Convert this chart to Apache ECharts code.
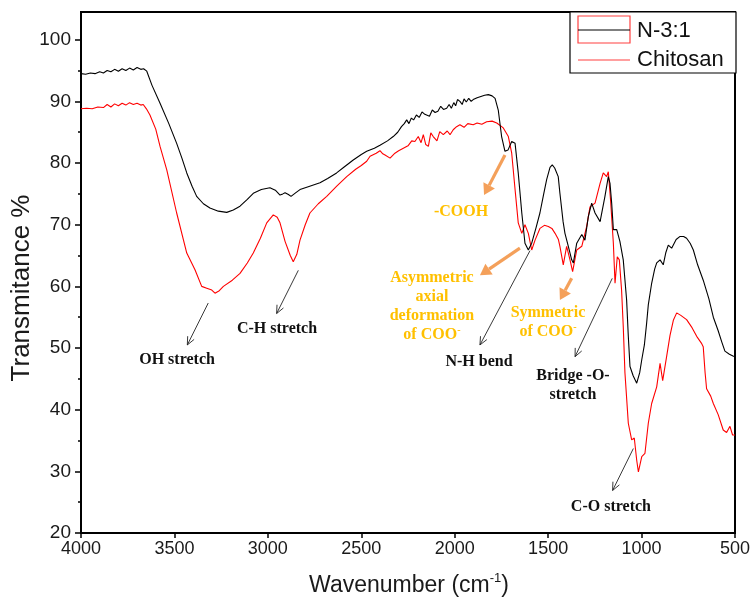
<!DOCTYPE html>
<html><head><meta charset="utf-8">
<script src="https://cdn.jsdelivr.net/npm/echarts@6/dist/echarts.min.js"></script>
<style>html,body{margin:0;padding:0;background:#fff}#c{width:752px;height:601px}</style>
</head><body><div id="c"></div>
<script>
const xTicks = [4000,3500,3000,2500,2000,1500,1000,500];
const yTicks = [20,30,40,50,60,70,80,90,100];
const yMinorTicks = [25,35,45,55,65,75,85,95];
const seriesNames = ['N-3:1','Chitosan'];

const n31 = [
[4000,94.5],[3975,94.4],[3950,94.6],[3925,94.5],[3900,94.8],[3880,94.6],[3860,95.0],[3840,94.8],[3820,95.2],[3800,94.9],[3780,95.3],[3760,95.0],[3740,95.4],[3720,95.1],[3700,95.5],[3680,95.2],[3665,95.3],[3648,94.9],[3620,92.6],[3577,89.7],[3530,86.4],[3488,83.2],[3460,80.8],[3434,78.4],[3405,76.2],[3381,74.6],[3345,73.4],[3310,72.7],[3265,72.2],[3220,72.0],[3185,72.4],[3149,73.0],[3110,74.1],[3078,75.1],[3035,75.7],[2989,76.0],[2960,75.6],[2935,74.8],[2920,75.0],[2908,75.2],[2890,74.9],[2876,74.6],[2850,75.2],[2828,75.7],[2780,76.2],[2721,76.8],[2680,77.5],[2632,78.4],[2590,79.4],[2543,80.5],[2500,81.4],[2471,81.9],[2430,82.4],[2400,82.9],[2360,83.6],[2329,84.3],[2305,85.0],[2285,85.9],[2270,86.4],[2257,87.0],[2245,86.4],[2232,87.3],[2220,87.0],[2205,87.8],[2190,87.4],[2175,88.3],[2160,87.9],[2150,88.1],[2135,87.6],[2120,88.6],[2105,88.2],[2090,88.4],[2075,89.2],[2060,88.7],[2043,88.9],[2030,89.5],[2018,88.9],[2005,89.8],[1995,89.3],[1985,90.3],[1972,90.0],[1960,89.5],[1950,90.4],[1938,89.9],[1925,90.5],[1912,90.0],[1901,90.3],[1880,90.6],[1860,90.8],[1840,91.0],[1820,91.1],[1800,90.9],[1784,90.5],[1767,88.6],[1749,84.3],[1731,81.9],[1715,82.1],[1695,83.5],[1677,83.2],[1660,78.4],[1641,71.9],[1624,67.0],[1606,65.9],[1588,67.0],[1565,69.5],[1544,71.9],[1525,74.8],[1508,77.3],[1490,79.3],[1478,79.7],[1465,79.2],[1446,77.8],[1437,75.1],[1420,70.5],[1410,68.6],[1392,66.5],[1374,64.3],[1365,63.8],[1347,67.0],[1320,68.4],[1303,67.5],[1285,71.3],[1267,73.5],[1249,71.9],[1222,70.5],[1196,74.6],[1178,77.8],[1169,76.7],[1160,73.5],[1151,69.2],[1133,69.2],[1116,67.3],[1098,64.3],[1080,57.8],[1071,51.9],[1062,47.0],[1045,45.5],[1026,44.3],[1010,46.0],[999,48.1],[985,50.5],[973,54.0],[964,57.0],[946,60.5],[930,62.8],[919,63.8],[901,64.3],[884,63.5],[870,65.5],[857,66.7],[839,66.2],[815,67.6],[794,68.1],[775,68.1],[759,67.8],[740,67.0],[723,65.9],[700,63.5],[670,61.0],[640,58.0],[616,55.0],[590,52.8],[571,51.0],[554,49.5],[530,49.0],[511,48.7],[500,48.6]
];

const chitosan = [
[4000,88.8],[3970,88.9],[3940,88.8],[3910,89.1],[3880,89.0],[3860,89.5],[3840,89.1],[3820,89.6],[3800,89.3],[3780,89.7],[3760,89.4],[3740,89.8],[3720,89.5],[3700,89.7],[3680,89.4],[3667,89.5],[3650,88.8],[3631,87.8],[3600,85.5],[3577,82.7],[3541,78.9],[3488,71.9],[3434,65.4],[3390,62.7],[3354,60.0],[3327,59.7],[3300,59.4],[3283,58.9],[3260,59.3],[3238,60.0],[3190,61.0],[3149,62.1],[3110,63.8],[3078,65.4],[3040,67.8],[3006,70.3],[2971,71.6],[2950,71.2],[2935,70.3],[2908,67.3],[2880,65.0],[2864,64.0],[2845,65.2],[2828,67.5],[2800,70.0],[2775,71.9],[2730,73.4],[2685,74.6],[2630,76.3],[2578,77.8],[2530,79.0],[2500,79.6],[2471,80.3],[2453,81.1],[2420,81.6],[2400,82.0],[2385,81.5],[2373,81.3],[2346,80.8],[2320,81.6],[2300,82.0],[2275,82.4],[2250,82.8],[2230,83.6],[2213,83.5],[2195,84.3],[2180,83.3],[2168,84.6],[2155,83.0],[2141,82.7],[2128,84.9],[2115,84.3],[2095,83.6],[2080,85.1],[2061,84.6],[2040,85.2],[2025,84.6],[2008,85.4],[1990,85.9],[1972,86.2],[1950,85.8],[1930,86.4],[1901,86.2],[1880,86.5],[1855,86.3],[1829,86.7],[1800,86.8],[1775,86.5],[1740,85.7],[1713,84.3],[1695,81.6],[1677,75.7],[1660,70.3],[1641,68.6],[1624,70.0],[1606,68.6],[1588,65.9],[1570,67.5],[1544,69.4],[1520,69.9],[1499,69.7],[1480,69.4],[1463,68.6],[1445,67.6],[1437,66.5],[1419,63.5],[1401,66.5],[1383,64.3],[1369,62.4],[1347,65.9],[1320,66.5],[1294,69.7],[1276,72.9],[1249,73.5],[1222,76.7],[1205,78.4],[1187,77.8],[1178,78.6],[1166,74.0],[1151,67.0],[1142,60.5],[1130,64.8],[1119,64.3],[1107,59.4],[1098,53.5],[1089,46.0],[1071,37.8],[1053,35.1],[1039,35.4],[1026,31.8],[1017,29.9],[999,32.4],[982,32.9],[964,37.8],[946,41.0],[919,43.7],[901,47.5],[887,44.7],[866,48.6],[848,52.0],[830,54.5],[812,55.7],[790,55.3],[759,54.6],[730,53.3],[705,51.9],[680,50.8],[670,50.2],[660,46.0],[652,43.4],[630,42.2],[616,41.0],[590,39.2],[563,36.7],[545,36.3],[527,37.3],[513,35.9],[500,35.9]
];

// annotation labels: [wavenumber, transmittance] of label centre
const labels = [
  {text:'OH stretch', at:[3486,48.1], color:'#111'},
  {text:'C-H stretch', at:[2951,53.1], color:'#111'},
  {text:'-COOH', at:[1966,72.1], color:'#FFC000'},
  {text:'Asymmetric\naxial\ndeformation\nof COO{s|-}', at:[2122,56.8], color:'#FFC000'},
  {text:'N-H bend', at:[1870,47.7], color:'#111'},
  {text:'Symmetric\nof COO{s|-}', at:[1501,54.1], color:'#FFC000'},
  {text:'Bridge -O-\nstretch', at:[1367,44.0], color:'#111'},
  {text:'C-O stretch', at:[1164,24.2], color:'#111'}
];
const arrows = [
  {from:[3319,57.3], to:[3431,50.5], kind:'black'},
  {from:[2837,62.6], to:[2953,55.6], kind:'black'},
  {from:[1597,65.8], to:[1865,50.5], kind:'black'},
  {from:[1157,61.3], to:[1356,48.6], kind:'black'},
  {from:[1044,33.7], to:[1155,26.9], kind:'black'},
  {from:[1731,81.3], to:[1843,74.8], kind:'orange'},
  {from:[1651,66.2], to:[1865,61.8], kind:'orange'},
  {from:[1374,61.3], to:[1437,57.8], kind:'orange'}
];

const chart = echarts.init(document.getElementById('c'), null, {renderer:'canvas'});
const labelFont = 'Liberation Sans';
chart.setOption({
  animation:false,
  backgroundColor:'#fff',
  grid:{left:81, right:17, top:12, bottom:68, show:true, borderColor:'#000', borderWidth:2, containLabel:false, outerBoundsMode:'none'},
  xAxis:{
    type:'value', inverse:true, min:500, max:4000, interval:500,
    axisLine:{show:true, onZero:false, lineStyle:{color:'#000', width:2}},
    axisTick:{show:true, inside:false, length:5, lineStyle:{color:'#000', width:1.5}},
    axisLabel:{show:true, margin:7, fontSize:18, fontFamily:labelFont, color:'#1a1a1a',
      customValues: xTicks, formatter:function(v){ return String(v); }},
    splitLine:{show:false}
  },
  yAxis:[{
    type:'value', min:20, max:104.5, interval:10,
    axisLine:{show:true, onZero:false, lineStyle:{color:'#000', width:2}},
    axisTick:{show:true, inside:false, length:6, lineStyle:{color:'#000', width:1.5}, customValues: yTicks},
    axisLabel:{show:true, margin:10, fontSize:19, fontFamily:labelFont, color:'#1a1a1a', customValues: yTicks,
      formatter:function(v){ return String(v); }},
    splitLine:{show:false}
  },{
    type:'value', min:20, max:104.5, position:'left',
    axisLine:{show:false},
    axisTick:{show:true, inside:false, length:3, lineStyle:{color:'#000', width:1.5}, customValues: yMinorTicks},
    axisLabel:{show:false},
    splitLine:{show:false}
  }],
  series:[
    {name:seriesNames[0], type:'line', data:n31, showSymbol:false, symbol:'none', z:3,
     lineStyle:{color:'#000', width:1.1}},
    {name:seriesNames[1], type:'line', data:chitosan, showSymbol:false, symbol:'none', z:2,
     lineStyle:{color:'#ff0000', width:1.1}}
  ]
});

function px(p){ return chart.convertToPixel({gridIndex:0}, p); }
const els = [];
labels.forEach(function(l){
  const p = px(l.at);
  els.push({type:'text', x:p[0], y:p[1], z:10, style:{
    text:l.text, fill:l.color, font:'bold 16px "Liberation Serif"', fontSize:16, fontWeight:'bold', fontFamily:'Liberation Serif',
    align:'center', verticalAlign:'middle', textAlign:'center', textVerticalAlign:'middle',
    lineHeight:19, rich:{s:{fill:l.color, fontSize:10, fontWeight:'bold', fontFamily:'Liberation Serif', verticalAlign:'top', lineHeight:19}}
  }});
});
arrows.forEach(function(a){
  const p0 = px(a.from), p1 = px(a.to);
  const ang = Math.atan2(p1[1]-p0[1], p1[0]-p0[0]);
  const orange = a.kind === 'orange';
  const L = orange ? 11 : 8, W = orange ? 6.5 : 3.6;
  const color = orange ? '#F4A05A' : '#222';
  const bx = p1[0]-L*Math.cos(ang), by = p1[1]-L*Math.sin(ang);
  const nx = -Math.sin(ang), ny = Math.cos(ang);
  const left = [bx+nx*W, by+ny*W], right = [bx-nx*W, by-ny*W];
  if (orange) {
    els.push({type:'line', z:10, shape:{x1:p0[0], y1:p0[1], x2:bx, y2:by}, style:{stroke:color, lineWidth:3.2}});
    els.push({type:'polygon', z:10, shape:{points:[p1, left, right]}, style:{fill:color}});
  } else {
    els.push({type:'line', z:10, shape:{x1:p0[0], y1:p0[1], x2:p1[0], y2:p1[1]}, style:{stroke:color, lineWidth:0.9}});
    els.push({type:'polyline', z:10, shape:{points:[left, p1, right]}, style:{stroke:color, lineWidth:0.9, fill:null}});
  }
});
// axis titles
els.push({type:'text', x:22, y:288, rotation:Math.PI/2, z:10, style:{
  text:'Transmitance %', font:'26px "Liberation Sans"', fill:'#1a1a1a', align:'center', verticalAlign:'middle', textAlign:'center', textVerticalAlign:'middle'}});
els.push({type:'text', x:409, y:586, z:10, style:{
  text:'Wavenumber (cm{s|-1})', font:'23px "Liberation Sans"', fill:'#1a1a1a', align:'center', verticalAlign:'middle', textAlign:'center', textVerticalAlign:'middle', lineHeight:28,
  rich:{s:{fontSize:13, fontFamily:'Liberation Sans', fill:'#1a1a1a', verticalAlign:'top', lineHeight:28}}}});
// legend box
els.push({type:'rect', z:20, shape:{x:570, y:12, width:166, height:61}, style:{fill:'#fff', stroke:'#000', lineWidth:1.2}});
els.push({type:'rect', z:21, shape:{x:578, y:16, width:52, height:27}, style:{fill:null, stroke:'#ff4040', lineWidth:1.2}});
els.push({type:'line', z:21, shape:{x1:578, y1:30, x2:630, y2:30}, style:{stroke:'#000', lineWidth:1.2}});
els.push({type:'text', z:21, x:637, y:31, style:{text:seriesNames[0], font:'22px "Liberation Sans"', fill:'#111', align:'left', verticalAlign:'middle', textAlign:'left', textVerticalAlign:'middle'}});
els.push({type:'line', z:21, shape:{x1:578, y1:60, x2:630, y2:60}, style:{stroke:'#ff4040', lineWidth:1.2}});
els.push({type:'text', z:21, x:637, y:60, style:{text:seriesNames[1], font:'22px "Liberation Sans"', fill:'#111', align:'left', verticalAlign:'middle', textAlign:'left', textVerticalAlign:'middle'}});
chart.setOption({graphic:{elements:els}});
</script></body></html>
